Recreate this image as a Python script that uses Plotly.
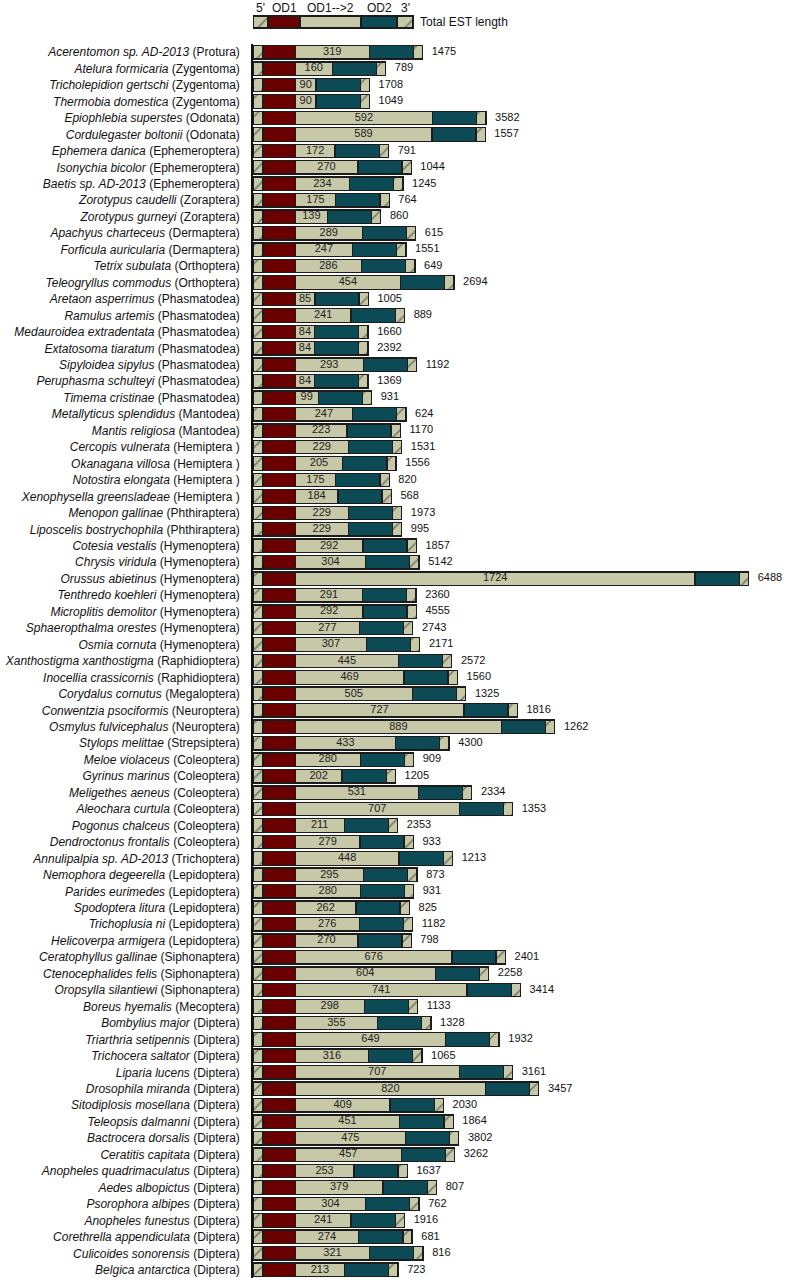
import plotly.graph_objects as go

# ---------------- data ----------------
species = [
    "Acerentomon sp. AD-2013", "Atelura formicaria", "Tricholepidion gertschi", "Thermobia domestica",
    "Epiophlebia superstes", "Cordulegaster boltonii", "Ephemera danica", "Isonychia bicolor",
    "Baetis sp. AD-2013", "Zorotypus caudelli", "Zorotypus gurneyi", "Apachyus charteceus",
    "Forficula auricularia", "Tetrix subulata", "Teleogryllus commodus", "Aretaon asperrimus",
    "Ramulus artemis", "Medauroidea extradentata", "Extatosoma tiaratum", "Sipyloidea sipylus",
    "Peruphasma schulteyi", "Timema cristinae", "Metallyticus splendidus", "Mantis religiosa",
    "Cercopis vulnerata", "Okanagana villosa", "Notostira elongata", "Xenophysella greensladeae",
    "Menopon gallinae", "Liposcelis bostrychophila", "Cotesia vestalis", "Chrysis viridula",
    "Orussus abietinus", "Tenthredo koehleri", "Microplitis demolitor", "Sphaeropthalma orestes",
    "Osmia cornuta", "Xanthostigma xanthostigma", "Inocellia crassicornis", "Corydalus cornutus",
    "Conwentzia psociformis", "Osmylus fulvicephalus", "Stylops melittae", "Meloe violaceus",
    "Gyrinus marinus", "Meligethes aeneus", "Aleochara curtula", "Pogonus chalceus",
    "Dendroctonus frontalis", "Annulipalpia sp. AD-2013", "Nemophora degeerella", "Parides eurimedes",
    "Spodoptera litura", "Trichoplusia ni", "Helicoverpa armigera", "Ceratophyllus gallinae",
    "Ctenocephalides felis", "Oropsylla silantiewi", "Boreus hyemalis", "Bombylius major",
    "Triarthria setipennis", "Trichocera saltator", "Liparia lucens", "Drosophila miranda",
    "Sitodiplosis mosellana", "Teleopsis dalmanni", "Bactrocera dorsalis", "Ceratitis capitata",
    "Anopheles quadrimaculatus", "Aedes albopictus", "Psorophora albipes", "Anopheles funestus",
    "Corethrella appendiculata", "Culicoides sonorensis", "Belgica antarctica",
]
orders = [
    "Protura", "Zygentoma", "Zygentoma", "Zygentoma",
    "Odonata", "Odonata", "Ephemeroptera", "Ephemeroptera",
    "Ephemeroptera", "Zoraptera", "Zoraptera", "Dermaptera",
    "Dermaptera", "Orthoptera", "Orthoptera", "Phasmatodea",
    "Phasmatodea", "Phasmatodea", "Phasmatodea", "Phasmatodea",
    "Phasmatodea", "Phasmatodea", "Mantodea", "Mantodea",
    "Hemiptera ", "Hemiptera ", "Hemiptera ", "Hemiptera ",
    "Phthiraptera", "Phthiraptera", "Hymenoptera", "Hymenoptera",
    "Hymenoptera", "Hymenoptera", "Hymenoptera", "Hymenoptera",
    "Hymenoptera", "Raphidioptera", "Raphidioptera", "Megaloptera",
    "Neuroptera", "Neuroptera", "Strepsiptera", "Coleoptera",
    "Coleoptera", "Coleoptera", "Coleoptera", "Coleoptera",
    "Coleoptera", "Trichoptera", "Lepidoptera", "Lepidoptera",
    "Lepidoptera", "Lepidoptera", "Lepidoptera", "Siphonaptera",
    "Siphonaptera", "Siphonaptera", "Mecoptera", "Diptera",
    "Diptera", "Diptera", "Diptera", "Diptera",
    "Diptera", "Diptera", "Diptera", "Diptera",
    "Diptera", "Diptera", "Diptera", "Diptera",
    "Diptera", "Diptera", "Diptera",
]
od1_to_od2 = [
    319, 160, 90, 90, 592, 589, 172, 270, 234, 175, 139, 289, 247, 286, 454, 85,
    241, 84, 84, 293, 84, 99, 247, 223, 229, 205, 175, 184, 229, 229, 292, 304,
    1724, 291, 292, 277, 307, 445, 469, 505, 727, 889, 433, 280, 202, 531, 707, 211,
    279, 448, 295, 280, 262, 276, 270, 676, 604, 741, 298, 355, 649, 316, 707, 820,
    409, 451, 475, 457, 253, 379, 304, 241, 274, 321, 213,
]
total_est_length = [
    1475, 789, 1708, 1049, 3582, 1557, 791, 1044, 1245, 764, 860, 615, 1551, 649, 2694, 1005,
    889, 1660, 2392, 1192, 1369, 931, 624, 1170, 1531, 1556, 820, 568, 1973, 995, 1857, 5142,
    6488, 2360, 4555, 2743, 2171, 2572, 1560, 1325, 1816, 1262, 4300, 909, 1205, 2334, 1353, 2353,
    933, 1213, 873, 931, 825, 1182, 798, 2401, 2258, 3414, 1133, 1328, 1932, 1065, 3161, 3457,
    2030, 1864, 3802, 3262, 1637, 807, 762, 1916, 681, 816, 723,
]
legend_labels = ["5'", "OD1", "OD1-->2", "OD2", "3'"]
legend_note = "Total EST length"

# ---------------- schematic widths (style) ----------------
FIVE_W, OD1_W, OD2_W, THREE_W = 43, 139, 190, 40      # fixed schematic segment widths (axis units)
LEG_W = [65, 138, 263, 155, 69]                         # legend bar segment widths (axis units)
LEG_NOTE_GAP = 22
X_MAX = 2302

FONT = "Liberation Sans, Arial, sans-serif"
C_RED = "#6b0000"
C_BEIGE = "#c6c8a7"
C_TEAL = "#0c4b55"
C_HATCH = "#c6c8a7"
EDGE = dict(color="#1c1c1c", width=1.3)
HATCH = dict(shape="/", fgcolor="#2a2a2a", bgcolor=C_HATCH, size=13, solidity=0.12)

labels = [f"<i>{s}</i> ({o})" for s, o in zip(species, orders)]
n = len(labels)

fig = go.Figure()


def seg(x, color, pattern=None, xa="x", ya="y", y=None, width=None):
    return go.Bar(
        y=y if y is not None else labels, x=x, orientation="h",
        marker=dict(color=color, line=EDGE, pattern=pattern if pattern else dict(shape="")),
        textposition="none",
        xaxis=xa, yaxis=ya, width=width, showlegend=False, hoverinfo="skip",
    )


fig.add_trace(seg([FIVE_W] * n, C_HATCH, pattern=HATCH))
fig.add_trace(seg([OD1_W] * n, C_RED))
fig.add_trace(seg(od1_to_od2, C_BEIGE))
fig.add_trace(seg([OD2_W] * n, C_TEAL))
fig.add_trace(seg([THREE_W] * n, C_HATCH, pattern=HATCH))

# value labels centred in the OD1-->2 segment
mids = [FIVE_W + OD1_W + v / 2 for v in od1_to_od2]
fig.add_trace(go.Scatter(
    x=mids, y=labels, mode="text", text=[str(v) for v in od1_to_od2],
    textposition="middle center", textfont=dict(family=FONT, size=11, color="#222222"),
    showlegend=False, hoverinfo="skip", cliponaxis=False,
))

# total EST length labels at the right end of each bar
ends = [FIVE_W + OD1_W + v + OD2_W + THREE_W for v in od1_to_od2]
fig.add_trace(go.Scatter(
    x=ends, y=labels, mode="text", text=[f"   {t}" for t in total_est_length],
    textposition="middle right", textfont=dict(family=FONT, size=11, color="#111111"),
    showlegend=False, hoverinfo="skip", cliponaxis=False,
))

# legend bar on its own small axis
leg_colors = [C_HATCH, C_RED, C_BEIGE, C_TEAL, C_HATCH]
leg_patterns = [HATCH, None, None, None, HATCH]
for w, c, p in zip(LEG_W, leg_colors, leg_patterns):
    fig.add_trace(seg([w], c, pattern=p, xa="x2", ya="y2", y=["legend"], width=0.75))

cum = 0
for w, lab in zip(LEG_W, legend_labels):
    fig.add_annotation(x=cum + w / 2, y=0.9937, xref="x2", yref="paper", text=lab,
                       showarrow=False, font=dict(family=FONT, size=12, color="#111111"),
                       xanchor="center", yanchor="middle")
    cum += w
fig.add_annotation(x=cum + LEG_NOTE_GAP, y=0.9828, xref="x2", yref="paper",
                   text=legend_note, showarrow=False,
                   font=dict(family=FONT, size=12, color="#111111"), xanchor="left", yanchor="middle")

fig.update_layout(
    width=787, height=1280,
    margin=dict(l=253, r=0, t=0, b=2, autoexpand=False),
    barmode="stack", bargap=0.18,
    plot_bgcolor="white", paper_bgcolor="white",
    font=dict(family=FONT, size=12, color="#111111"),
    xaxis=dict(range=[0, X_MAX], visible=False, domain=[0, 1], automargin=False),
    yaxis=dict(domain=[0, 0.9656], range=[n - 0.5, -0.5], type="category", automargin=False,
               showline=True, linecolor="#111111", linewidth=1.5, showgrid=False,
               ticks="", ticklabelstandoff=9, tickfont=dict(family=FONT, size=12, color="#111111")),
    xaxis2=dict(range=[0, X_MAX], visible=False, anchor="y2", domain=[0, 1], automargin=False),
    yaxis2=dict(domain=[0.9765, 0.9890], range=[-0.5, 0.5], visible=False, anchor="x2",
                automargin=False),
)

fig.write_html("out.html", config={"displayModeBar": False},
               post_script="document.body.style.margin='0';document.body.style.padding='0';")
